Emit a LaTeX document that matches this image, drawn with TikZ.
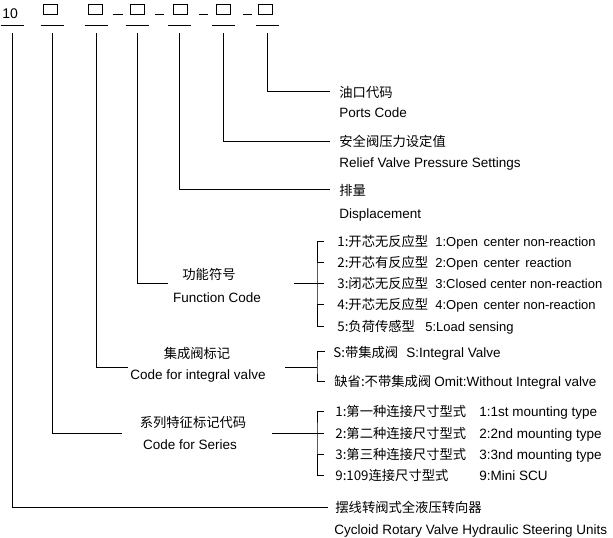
\documentclass[tikz,border=0pt]{standalone}
\usepackage{fontspec}
\setmainfont{Liberation Sans}
\newfontfamily\cjk{Noto Sans CJK SC}
\begin{document}
\begin{tikzpicture}[x=1pt,y=-1pt,line width=0.8pt,
  en/.style={font=\fontsize{13.5}{16}\selectfont,inner sep=0pt,anchor=base west},
  ens/.style={font=\fontsize{13}{16}\selectfont,inner sep=0pt,anchor=base west},
  zh/.style={font=\cjk\fontsize{13.3}{16}\selectfont,inner sep=0pt,anchor=base west},
  enc/.style={en,anchor=base},
  zhc/.style={zh,anchor=base},
  slot/.style={draw,line width=0.6pt,minimum width=14pt,minimum height=10.5pt,inner sep=0pt},
  lead/.style={line width=0.8pt}]
\useasboundingbox (0,0) rectangle (613,538);

% ---- top code row ----
\node[en,font=\fontsize{14}{16}\selectfont] (n10) at (2,18) {10};
\node[slot] (s1) at (50.5,9.5) {};
\node[slot] (s2) at (95.5,9.5) {};
\node[slot] (s3) at (137.5,9.5) {};
\node[slot] (s4) at (180,9.5) {};
\node[slot] (s5) at (223.5,9.5) {};
\node[slot] (s6) at (265,9.5) {};

% dashes between slots
\draw[lead] ([xshift=10pt,yshift=-5pt]s2.east) -- ([xshift=20pt,yshift=-5pt]s2.east);
\draw[lead] ([xshift=10pt,yshift=-5pt]s3.east) -- ([xshift=19pt,yshift=-5pt]s3.east);
\draw[lead] ([xshift=12pt,yshift=-5pt]s4.east) -- ([xshift=21pt,yshift=-5pt]s4.east);
\draw[lead] ([xshift=12pt,yshift=-5pt]s5.east) -- ([xshift=21pt,yshift=-5pt]s5.east);

% underlines and start of leaders
\foreach \i/\x in {0/12,1/52,2/96,3/137,4/179,5/223,6/267}{
  \coordinate (u\i) at (\x,25);
  \coordinate (v\i) at (\x,33);
  \draw[lead] ([xshift=-11.5pt]u\i) -- ([xshift=11.5pt]u\i);
}

% ---- Ports code ----
\node[zh] (pzh) at (339,97) {油口代码};
\node[en] (pen) at (339,117) {Ports Code};
\coordinate (pe) at (330,91);
\draw[lead] (v6) |- (pe);

% ---- Relief valve ----
\node[zh] (rzh) at (339,146) {安全阀压力设定值};
\node[en] (ren) at (339,167) {Relief Valve Pressure Settings};
\coordinate (re) at (330,141);
\draw[lead] (v5) |- (re);

% ---- Displacement ----
\node[zh] (dzh) at (339,195) {排量};
\node[en] (den) at (339,218) {Displacement};
\coordinate (de) at (330,189);
\draw[lead] (v4) |- (de);

% ---- Function code ----
\node[zhc] (fzh) at (209,279) {功能符号};
\node[enc] (fen) at (217,302) {Function Code};
\coordinate (fl) at (168,283);
\draw[lead] (v3) |- (fl);
\coordinate (fr) at (294,283);
\coordinate (fb) at (317,283);
\draw[lead] (fr) -- (fb);
\foreach \k/\y/\zt/\et/\ex in {
  1/241/1:开芯无反应型/1:Open\hspace{2pt} center non-reaction/435,
  2/262/2:开芯有反应型/2:Open\hspace{2pt} center\hspace{2pt} reaction/435,
  3/283/3:闭芯无反应型/3:Closed center non-reaction/435,
  4/304/4:开芯无反应型/4:Open\hspace{2pt} center non-reaction/435,
  5/326/5:负荷传感型/5:Load sensing/425}{
  \coordinate (ft\k) at (324,\y);
  \node[zh] (fz\k) at (337,\y+5) {\zt};
  \node[ens] (fe\k) at (\ex,\y+5) {\et};
}
\draw[lead] (ft1) -| (fb) |- (ft5);
\draw[lead] (fb) -- (ft3);
\draw[lead] (ft2) -- ++(-7,0);
\draw[lead] (ft4) -- ++(-7,0);

% ---- Integral valve ----
\node[zhc] (izh) at (197,358) {集成阀标记};
\node[enc] (ien) at (198,379) {Code for integral valve};
\coordinate (il) at (128,367);
\draw[lead] (v2) |- (il);
\coordinate (ir) at (285,367);
\coordinate (ib) at (317,367);
\draw[lead] (ir) -- (ib);
\coordinate (it1) at (325,351);
\coordinate (it2) at (325,381);
\draw[lead] (it1) -| (ib) |- (it2);
\node[zh] (iz1) at (333,357) {S:带集成阀};
\node[en] (ie1) at (406,357) {S:Integral Valve};
\node[zh] (iz2) at (334,386) {缺省:不带集成阀};
\node[en] (ie2) at (434,386) {Omit:Without Integral valve};

% ---- Series ----
\node[zhc] (szh) at (193,427) {系列特征标记代码};
\node[enc] (sen) at (190,449) {Code for Series};
\coordinate (sl) at (122,433);
\draw[lead] (v1) |- (sl);
\coordinate (sr) at (272,433);
\coordinate (sb) at (317,433);
\foreach \k/\y/\zt/\et in {
  1/411/1:第一种连接尺寸型式/1:1st mounting type,
  2/433/2:第二种连接尺寸型式/2:2nd mounting type,
  3/454/3:第三种连接尺寸型式/3:3nd mounting type,
  4/475/9:109连接尺寸型式/9:Mini SCU}{
  \coordinate (st\k) at (324,\y);
  \node[zh] (sz\k) at (335,\y+5) {\zt};
  \node[en] (se\k) at (479,\y+5) {\et};
}
\draw[lead] (sr) -- (st2);
\draw[lead] (st1) -| (sb) |- (st4);
\draw[lead] (st3) -- ++(-7,0);

% ---- Main ----
\node[zh] (mzh) at (335,512) {摆线转阀式全液压转向器};
\node[en] (men) at (334,534) {Cycloid Rotary Valve Hydraulic Steering Units};
\coordinate (me) at (328,507);
\draw[lead] (v0) |- (me);
\end{tikzpicture}
\end{document}
